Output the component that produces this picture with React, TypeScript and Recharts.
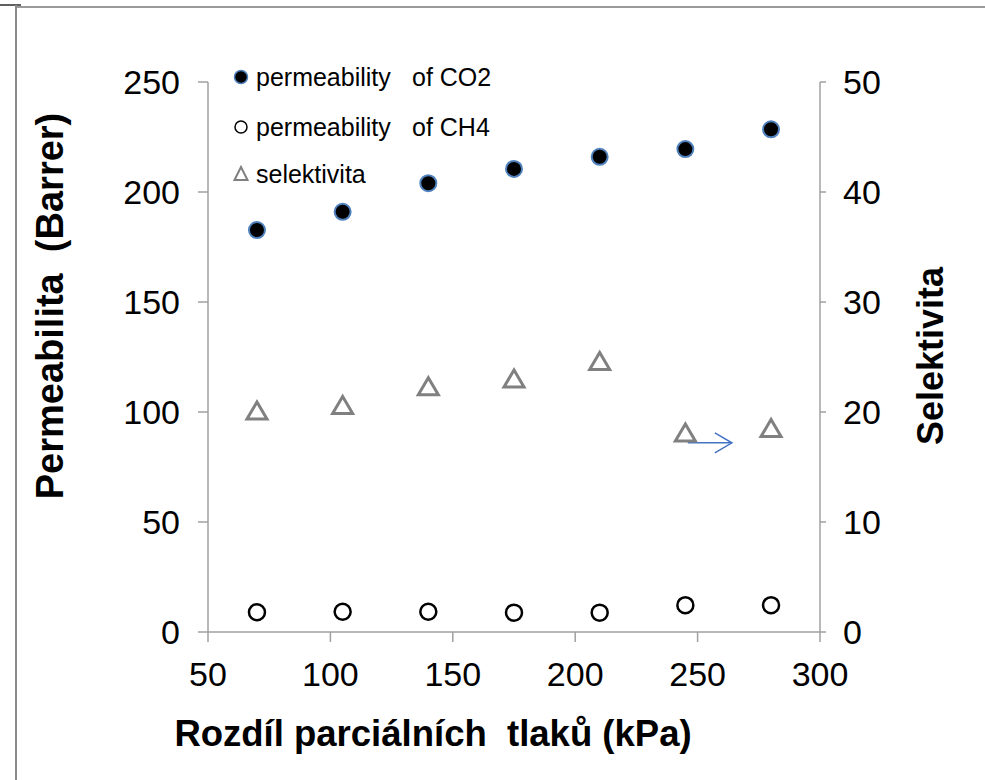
import React from 'react';
import {
  ScatterChart,
  Scatter,
  XAxis,
  YAxis,
  Legend,
  ReferenceLine,
} from 'recharts';

const pressures = [70, 105, 140, 175, 210, 245, 280];
const permCO2 = [182.7, 191, 204, 210.5, 216, 219.5, 228.5];
const permCH4 = [9.0, 9.2, 9.2, 8.8, 8.8, 12.2, 12.2];
const selectivity = [20.1, 20.6, 22.3, 23.0, 24.6, 18.1, 18.5];

const xTicks = [50, 100, 150, 200, 250, 300];
const leftTicks = [0, 50, 100, 150, 200, 250];
const rightTicks = [0, 10, 20, 30, 40, 50];
const arrowSegment = [
  { x: 246, y: 17.2 },
  { x: 264, y: 17.2 },
];

const seriesNames = ['permeability of CO2', 'permeability of CH4', 'selektivita'];

const co2Data = pressures.map((x, i) => ({ x, y: permCO2[i] }));
const ch4Data = pressures.map((x, i) => ({ x, y: permCH4[i] }));
const selData = pressures.map((x, i) => ({ x, y: selectivity[i] }));

const FONT = '"Liberation Sans", Arial, sans-serif';
const AXIS = '#a0a0a0';
const NB = '\u00a0';

const Co2Dot = (p: any) => (
  <circle cx={p.cx} cy={p.cy} r={8} fill="#000" stroke="#4f81bd" strokeWidth={2} />
);
const Ch4Dot = (p: any) => (
  <circle cx={p.cx} cy={p.cy} r={8} fill="#fff" stroke="#000" strokeWidth={2.5} />
);
const Tri = (p: any) => (
  <polygon
    points={`${p.cx},${p.cy - 9} ${p.cx - 10},${p.cy + 8} ${p.cx + 10},${p.cy + 8}`}
    fill="none"
    stroke="#808080"
    strokeWidth={3}
    strokeLinejoin="miter"
  />
);

const Arrow = (p: any) => {
  const { x1, y1, x2, y2 } = p;
  return (
    <g>
      <line x1={x1} y1={y1} x2={x2} y2={y2} stroke="#4472c4" strokeWidth={1.5} />
      <polyline
        points={`${x2 - 17},${y2 - 10} ${x2},${y2} ${x2 - 17},${y2 + 10}`}
        fill="none"
        stroke="#4472c4"
        strokeWidth={1.5}
      />
    </g>
  );
};

const legendMarker = (i: number) => {
  if (i === 0)
    return <circle cx={10} cy={10} r={6.5} fill="#000" stroke="#4f81bd" strokeWidth={1.5} />;
  if (i === 1)
    return <circle cx={10} cy={10} r={6} fill="#fff" stroke="#000" strokeWidth={1.5} />;
  return (
    <polygon points="10,3 3.5,16 16.5,16" fill="none" stroke="#808080" strokeWidth={2} />
  );
};

const rowCenters = [17, 67, 114];

const LegendContent = (props: any) => {
  const payload = [...(props.payload || [])].sort(
    (a: any, b: any) => seriesNames.indexOf(a.value) - seriesNames.indexOf(b.value)
  );
  return (
    <div style={{ position: 'relative', width: 300, height: 130, fontFamily: FONT }}>
      {payload.map((entry: any) => {
        const name: string = entry.value;
        const i = seriesNames.indexOf(name);
        const parts = name.startsWith('permeability ')
          ? ['permeability', name.slice('permeability '.length)]
          : [name];
        const top = rowCenters[i] - 15;
        return (
          <React.Fragment key={name}>
            <svg
              width={20}
              height={20}
              style={{ position: 'absolute', left: 1, top: rowCenters[i] - 10 }}
            >
              {legendMarker(i)}
            </svg>
            <span
              style={{
                position: 'absolute',
                left: 26,
                top,
                lineHeight: '30px',
                fontSize: 25,
                color: '#000',
                whiteSpace: 'nowrap',
              }}
            >
              {parts[0]}
            </span>
            {parts.length > 1 && (
              <span
                style={{
                  position: 'absolute',
                  left: 182,
                  top,
                  lineHeight: '30px',
                  fontSize: 25,
                  color: '#000',
                  whiteSpace: 'nowrap',
                }}
              >
                {parts[1]}
              </span>
            )}
          </React.Fragment>
        );
      })}
    </div>
  );
};

export default function App() {
  const tickStyle = { fontSize: 34, fill: '#000', fontFamily: FONT };
  return (
    <div style={{ position: 'absolute', left: 0, top: 0, width: 985, height: 780, background: '#fff', fontFamily: FONT }}>
      <div style={{ position: 'absolute', left: 0, top: 4, width: 21, height: 2, background: '#606060' }} />
      <div style={{ position: 'absolute', left: 17, top: 6, width: 968, height: 2, background: '#9a9a9a' }} />
      <div style={{ position: 'absolute', left: 15, top: 5, width: 2, height: 775, background: '#8a8a8a' }} />
      <ScatterChart
        width={985}
        height={780}
        margin={{ top: 82, right: 65, bottom: 48, left: 108 }}
        style={{ position: 'absolute', left: 0, top: 0 }}
      >
        <XAxis
          type="number"
          dataKey="x"
          domain={[50, 300]}
          ticks={xTicks}
          height={100}
          tick={tickStyle}
          tickSize={10}
          tickMargin={20}
          axisLine={{ stroke: AXIS, strokeWidth: 1.5 }}
          tickLine={{ stroke: AXIS, strokeWidth: 1.5 }}
          label={{
            content: () => (
              <text
                x={433}
                y={746}
                textAnchor="middle"
                fontSize={36.5}
                fontWeight="bold"
                fontFamily={FONT}
                fill="#000"
              >
                {`Rozdíl parciálních${NB}${NB}tlaků (kPa)`}
              </text>
            ),
          }}
        />
        <YAxis
          yAxisId="left"
          type="number"
          dataKey="y"
          domain={[0, 250]}
          ticks={leftTicks}
          width={100}
          tick={tickStyle}
          tickSize={10}
          tickMargin={18}
          axisLine={{ stroke: AXIS, strokeWidth: 1.5 }}
          tickLine={{ stroke: AXIS, strokeWidth: 1.5 }}
          label={{
            content: () => (
              <text
                x={50}
                y={306}
                transform="rotate(-90 50 306)"
                textAnchor="middle"
                dominantBaseline="central"
                fontSize={38}
                fontWeight="bold"
                fontFamily={FONT}
                fill="#000"
              >
                {`Permeabilita${NB}${NB}(Barrer)`}
              </text>
            ),
          }}
        />
        <YAxis
          yAxisId="right"
          orientation="right"
          type="number"
          dataKey="y"
          domain={[0, 50]}
          ticks={rightTicks}
          width={100}
          tick={tickStyle}
          tickSize={6}
          tickMargin={17}
          axisLine={{ stroke: AXIS, strokeWidth: 1.5 }}
          tickLine={{ stroke: AXIS, strokeWidth: 1.5 }}
          label={{
            content: () => (
              <text
                x={930}
                y={356}
                transform="rotate(-90 930 356)"
                textAnchor="middle"
                dominantBaseline="central"
                fontSize={36}
                fontWeight="bold"
                fontFamily={FONT}
                fill="#000"
              >
                Selektivita
              </text>
            ),
          }}
        />
        <Legend
          layout="vertical"
          align="center"
          verticalAlign="middle"
          wrapperStyle={{ left: 230, top: 60, width: 300, height: 130 }}
          content={LegendContent}
        />
        <Scatter
          name={seriesNames[0]}
          data={co2Data}
          yAxisId="left"
          fill="#000"
          shape={Co2Dot}
          isAnimationActive={false}
        />
        <Scatter
          name={seriesNames[1]}
          data={ch4Data}
          yAxisId="left"
          fill="#fff"
          shape={Ch4Dot}
          isAnimationActive={false}
        />
        <Scatter
          name={seriesNames[2]}
          data={selData}
          yAxisId="right"
          fill="#808080"
          shape={Tri}
          isAnimationActive={false}
        />
        <ReferenceLine
          yAxisId="right"
          segment={arrowSegment}
          shape={Arrow}
          ifOverflow="visible"
        />
      </ScatterChart>
    </div>
  );
}
